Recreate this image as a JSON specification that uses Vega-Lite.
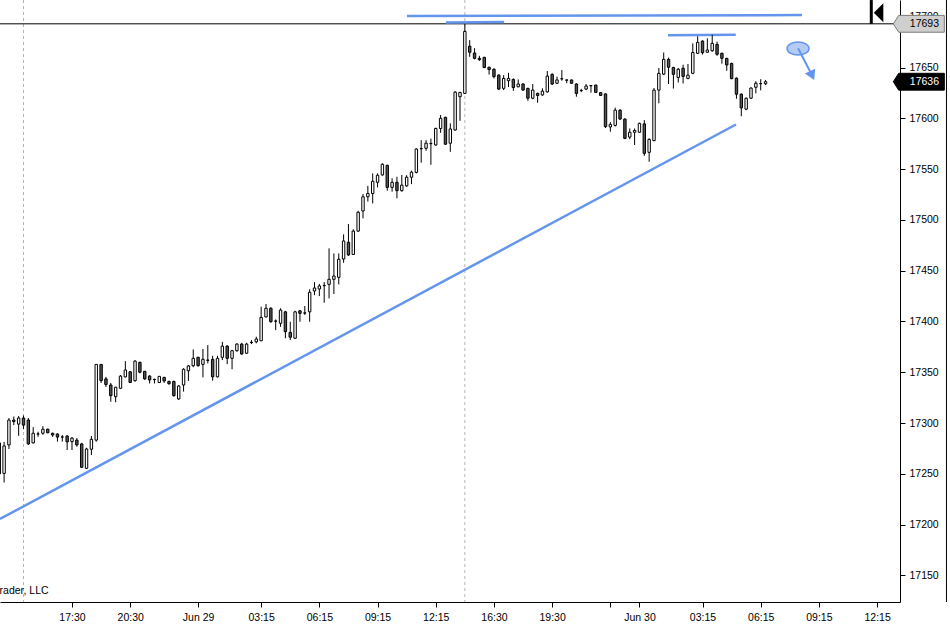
{
  "$schema": "https://vega.github.io/schema/vega-lite/v6.json",
  "autosize": {"type": "none"},
  "padding": {"left": 0, "top": 0, "right": 50, "bottom": 27},
  "width": 900,
  "height": 602,
  "background": "white",
  "config": {
    "view": {"stroke": null},
    "font": "Liberation Sans",
    "axis": {
      "domainColor": "black",
      "tickColor": "black",
      "labelColor": "black",
      "labelFont": "Liberation Sans",
      "labelFontSize": 10.5,
      "grid": false
    }
  },
  "datasets": {
    "bars": [
      {"i": -5, "o": 17280.5, "h": 17283, "l": 17238, "c": 17250},
      {"i": -4, "o": 17250.5, "h": 17281.5, "l": 17241.5, "c": 17277.5},
      {"i": -3, "o": 17278.5, "h": 17305, "l": 17274.5, "c": 17303},
      {"i": -2, "o": 17303, "h": 17306.5, "l": 17298, "c": 17301.5},
      {"i": -1, "o": 17299, "h": 17307, "l": 17287.5, "c": 17305},
      {"i": 0, "o": 17305, "h": 17307.5, "l": 17294, "c": 17298},
      {"i": 1, "o": 17303, "h": 17305, "l": 17278.5, "c": 17279.5},
      {"i": 2, "o": 17280.5, "h": 17296, "l": 17280, "c": 17290},
      {"i": 3, "o": 17289.25, "h": 17291.5, "l": 17286.5, "c": 17289.25},
      {"i": 4, "o": 17290, "h": 17297, "l": 17288.5, "c": 17294},
      {"i": 5, "o": 17294, "h": 17294.5, "l": 17290, "c": 17290.5},
      {"i": 6, "o": 17290, "h": 17290.5, "l": 17286.5, "c": 17288.25},
      {"i": 7, "o": 17289.25, "h": 17290, "l": 17281.75, "c": 17286.25},
      {"i": 8, "o": 17286.25, "h": 17288.25, "l": 17281.75, "c": 17286.25},
      {"i": 9, "o": 17287.25, "h": 17288.25, "l": 17273.5, "c": 17281.5},
      {"i": 10, "o": 17281.75, "h": 17286.25, "l": 17273.5, "c": 17285.25},
      {"i": 11, "o": 17283.25, "h": 17285.25, "l": 17276.75, "c": 17278.5},
      {"i": 12, "o": 17279.5, "h": 17280.5, "l": 17256, "c": 17256.5},
      {"i": 13, "o": 17255.5, "h": 17275.75, "l": 17254.75, "c": 17274.5},
      {"i": 14, "o": 17274.25, "h": 17287.25, "l": 17268.5, "c": 17284},
      {"i": 15, "o": 17283.25, "h": 17358, "l": 17281.75, "c": 17357.75},
      {"i": 16, "o": 17357.75, "h": 17358, "l": 17339.5, "c": 17341.75},
      {"i": 17, "o": 17343.5, "h": 17345.5, "l": 17335.5, "c": 17338},
      {"i": 18, "o": 17337.5, "h": 17339.5, "l": 17321, "c": 17327},
      {"i": 19, "o": 17326, "h": 17335.75, "l": 17320.5, "c": 17335.25},
      {"i": 20, "o": 17334.25, "h": 17347.25, "l": 17333.5, "c": 17346.25},
      {"i": 21, "o": 17345.5, "h": 17361, "l": 17345, "c": 17352.25},
      {"i": 22, "o": 17350.5, "h": 17351.25, "l": 17339.5, "c": 17340},
      {"i": 23, "o": 17341.75, "h": 17362, "l": 17340.75, "c": 17361},
      {"i": 24, "o": 17359.75, "h": 17360.5, "l": 17349, "c": 17350},
      {"i": 25, "o": 17351, "h": 17351.25, "l": 17342.5, "c": 17343.5},
      {"i": 26, "o": 17346.25, "h": 17347.25, "l": 17339, "c": 17342.5},
      {"i": 27, "o": 17343, "h": 17343.75, "l": 17339, "c": 17342.75},
      {"i": 28, "o": 17340, "h": 17346.25, "l": 17339.5, "c": 17346},
      {"i": 29, "o": 17345, "h": 17345.5, "l": 17339.5, "c": 17341.5},
      {"i": 30, "o": 17341, "h": 17341.75, "l": 17337.75, "c": 17338.75},
      {"i": 31, "o": 17341, "h": 17341.75, "l": 17326, "c": 17327},
      {"i": 32, "o": 17323.75, "h": 17337.5, "l": 17322.75, "c": 17336.5},
      {"i": 33, "o": 17337.5, "h": 17354, "l": 17331, "c": 17353},
      {"i": 34, "o": 17351.5, "h": 17357.25, "l": 17341.5, "c": 17356.25},
      {"i": 35, "o": 17356.5, "h": 17372.5, "l": 17355, "c": 17363.75},
      {"i": 36, "o": 17364.75, "h": 17365.25, "l": 17355.5, "c": 17356.5},
      {"i": 37, "o": 17357.75, "h": 17373, "l": 17345, "c": 17362.75},
      {"i": 38, "o": 17362, "h": 17376.75, "l": 17358.75, "c": 17361.75},
      {"i": 39, "o": 17362.75, "h": 17366.25, "l": 17341.75, "c": 17345.5},
      {"i": 40, "o": 17345.5, "h": 17366.25, "l": 17345, "c": 17363.75},
      {"i": 41, "o": 17364.75, "h": 17380, "l": 17362, "c": 17375.75},
      {"i": 42, "o": 17375.75, "h": 17376.75, "l": 17358, "c": 17363.75},
      {"i": 43, "o": 17363.75, "h": 17372, "l": 17353, "c": 17371.25},
      {"i": 44, "o": 17371.25, "h": 17378.75, "l": 17370.25, "c": 17377.75},
      {"i": 45, "o": 17377.75, "h": 17379, "l": 17367.25, "c": 17368},
      {"i": 46, "o": 17368.75, "h": 17379, "l": 17368, "c": 17377.75},
      {"i": 47, "o": 17379.5, "h": 17381.75, "l": 17377.75, "c": 17379.25},
      {"i": 48, "o": 17380, "h": 17385, "l": 17378.5, "c": 17382.75},
      {"i": 49, "o": 17381, "h": 17414.5, "l": 17380.75, "c": 17404},
      {"i": 50, "o": 17404.5, "h": 17417.25, "l": 17404, "c": 17413},
      {"i": 51, "o": 17413, "h": 17414, "l": 17398.75, "c": 17399.75},
      {"i": 52, "o": 17400.5, "h": 17402, "l": 17391.5, "c": 17400.25},
      {"i": 53, "o": 17398.25, "h": 17413, "l": 17394.75, "c": 17411.25},
      {"i": 54, "o": 17409.5, "h": 17410.5, "l": 17383.5, "c": 17390},
      {"i": 55, "o": 17389.25, "h": 17399.75, "l": 17381.75, "c": 17384.5},
      {"i": 56, "o": 17383.5, "h": 17410.5, "l": 17382.75, "c": 17409.5},
      {"i": 57, "o": 17410.5, "h": 17411.25, "l": 17399.75, "c": 17408},
      {"i": 58, "o": 17408.25, "h": 17415.25, "l": 17406.5, "c": 17408.5},
      {"i": 59, "o": 17409.5, "h": 17431.75, "l": 17399.75, "c": 17428.75},
      {"i": 60, "o": 17430, "h": 17438.75, "l": 17426, "c": 17433},
      {"i": 61, "o": 17432, "h": 17437, "l": 17425, "c": 17435},
      {"i": 62, "o": 17435.5, "h": 17438.75, "l": 17418.5, "c": 17435.25},
      {"i": 63, "o": 17436.5, "h": 17472, "l": 17422.75, "c": 17441.5},
      {"i": 64, "o": 17441.5, "h": 17467, "l": 17427, "c": 17444.75},
      {"i": 65, "o": 17443.5, "h": 17467, "l": 17436.5, "c": 17461.25},
      {"i": 66, "o": 17461.5, "h": 17485.75, "l": 17457.75, "c": 17479.25},
      {"i": 67, "o": 17478, "h": 17496, "l": 17464.5, "c": 17465.5},
      {"i": 68, "o": 17466, "h": 17490.75, "l": 17465.75, "c": 17489},
      {"i": 69, "o": 17489, "h": 17509, "l": 17488.25, "c": 17507.5},
      {"i": 70, "o": 17508.75, "h": 17525.5, "l": 17501.5, "c": 17522.75},
      {"i": 71, "o": 17522.75, "h": 17533.5, "l": 17518, "c": 17526},
      {"i": 72, "o": 17526, "h": 17545.75, "l": 17516.25, "c": 17538},
      {"i": 73, "o": 17537, "h": 17545.75, "l": 17532, "c": 17544},
      {"i": 74, "o": 17544.25, "h": 17555.75, "l": 17543.5, "c": 17554.75},
      {"i": 75, "o": 17553.75, "h": 17554.25, "l": 17528.75, "c": 17532},
      {"i": 76, "o": 17532, "h": 17541, "l": 17527.75, "c": 17537},
      {"i": 77, "o": 17537, "h": 17542.5, "l": 17521.25, "c": 17528.75},
      {"i": 78, "o": 17528.75, "h": 17544.25, "l": 17527.75, "c": 17534.25},
      {"i": 79, "o": 17533.5, "h": 17544, "l": 17532.5, "c": 17542},
      {"i": 80, "o": 17542, "h": 17548.5, "l": 17535.25, "c": 17547},
      {"i": 81, "o": 17546.75, "h": 17570.5, "l": 17545.75, "c": 17569.75},
      {"i": 82, "o": 17570, "h": 17578.5, "l": 17556.25, "c": 17570.25},
      {"i": 83, "o": 17570.5, "h": 17578.5, "l": 17568, "c": 17575.5},
      {"i": 84, "o": 17575, "h": 17580, "l": 17554.25, "c": 17575.25},
      {"i": 85, "o": 17573.75, "h": 17590.75, "l": 17573, "c": 17590},
      {"i": 86, "o": 17590, "h": 17603.25, "l": 17585.75, "c": 17600},
      {"i": 87, "o": 17601, "h": 17601.5, "l": 17573.75, "c": 17574.5},
      {"i": 88, "o": 17575.5, "h": 17595, "l": 17567, "c": 17589.5},
      {"i": 89, "o": 17588.5, "h": 17626.75, "l": 17587.75, "c": 17625.75},
      {"i": 90, "o": 17621.25, "h": 17626, "l": 17597.5, "c": 17625.5},
      {"i": 91, "o": 17624.5, "h": 17693, "l": 17624, "c": 17685.5},
      {"i": 92, "o": 17671, "h": 17677, "l": 17660.5, "c": 17665},
      {"i": 93, "o": 17664.25, "h": 17669, "l": 17658, "c": 17659},
      {"i": 94, "o": 17659, "h": 17661.5, "l": 17656.5, "c": 17657.75},
      {"i": 95, "o": 17660, "h": 17660.5, "l": 17649.25, "c": 17650},
      {"i": 96, "o": 17650.25, "h": 17650.75, "l": 17643, "c": 17648},
      {"i": 97, "o": 17648.25, "h": 17649.25, "l": 17639.25, "c": 17641},
      {"i": 98, "o": 17642.5, "h": 17643.25, "l": 17627.75, "c": 17628.75},
      {"i": 99, "o": 17629.5, "h": 17642.5, "l": 17627.75, "c": 17639.25},
      {"i": 100, "o": 17637, "h": 17644.75, "l": 17630.75, "c": 17639.25},
      {"i": 101, "o": 17638.25, "h": 17639.25, "l": 17627, "c": 17630.25},
      {"i": 102, "o": 17631, "h": 17638.25, "l": 17630.5, "c": 17633.75},
      {"i": 103, "o": 17633.75, "h": 17634.5, "l": 17627.5, "c": 17627.75},
      {"i": 104, "o": 17629.5, "h": 17630, "l": 17617.25, "c": 17619.75},
      {"i": 105, "o": 17619.75, "h": 17633.75, "l": 17618.75, "c": 17627.75},
      {"i": 106, "o": 17624.5, "h": 17625.25, "l": 17615.25, "c": 17622.5},
      {"i": 107, "o": 17623, "h": 17629.5, "l": 17622.25, "c": 17626.75},
      {"i": 108, "o": 17626, "h": 17646.5, "l": 17625.25, "c": 17641.5},
      {"i": 109, "o": 17643.25, "h": 17644.25, "l": 17632.75, "c": 17633.75},
      {"i": 110, "o": 17634.5, "h": 17641, "l": 17633.75, "c": 17637.75},
      {"i": 111, "o": 17639, "h": 17647.5, "l": 17637, "c": 17638.75},
      {"i": 112, "o": 17637.75, "h": 17638.25, "l": 17634.5, "c": 17637.5},
      {"i": 113, "o": 17637.75, "h": 17638, "l": 17633.75, "c": 17634.5},
      {"i": 114, "o": 17633.75, "h": 17634.5, "l": 17621.25, "c": 17624.5},
      {"i": 115, "o": 17627.25, "h": 17629, "l": 17625.75, "c": 17627.5},
      {"i": 116, "o": 17628.75, "h": 17633.75, "l": 17627.75, "c": 17631.75},
      {"i": 117, "o": 17632.25, "h": 17632.5, "l": 17625.25, "c": 17632},
      {"i": 118, "o": 17632.75, "h": 17633, "l": 17625.25, "c": 17625.5},
      {"i": 119, "o": 17625.25, "h": 17625.75, "l": 17622, "c": 17622.5},
      {"i": 120, "o": 17624, "h": 17624.5, "l": 17590.5, "c": 17591.75},
      {"i": 121, "o": 17591.5, "h": 17596.25, "l": 17586.75, "c": 17594},
      {"i": 122, "o": 17593, "h": 17610.5, "l": 17592, "c": 17608},
      {"i": 123, "o": 17608, "h": 17609, "l": 17598.25, "c": 17599.25},
      {"i": 124, "o": 17599.25, "h": 17600, "l": 17579.5, "c": 17580.25},
      {"i": 125, "o": 17581.5, "h": 17590, "l": 17579.5, "c": 17586.25},
      {"i": 126, "o": 17586.25, "h": 17590, "l": 17573.75, "c": 17588},
      {"i": 127, "o": 17586.25, "h": 17595.75, "l": 17586, "c": 17595},
      {"i": 128, "o": 17594.5, "h": 17598.25, "l": 17563, "c": 17565.5},
      {"i": 129, "o": 17566.5, "h": 17580.25, "l": 17557.25, "c": 17579.25},
      {"i": 130, "o": 17578, "h": 17629.75, "l": 17577.5, "c": 17627.75},
      {"i": 131, "o": 17627.75, "h": 17649.5, "l": 17614.75, "c": 17644.25},
      {"i": 132, "o": 17643.5, "h": 17664.75, "l": 17642.5, "c": 17658},
      {"i": 133, "o": 17658, "h": 17659.75, "l": 17633.75, "c": 17650.25},
      {"i": 134, "o": 17650, "h": 17650.75, "l": 17629.25, "c": 17643.25},
      {"i": 135, "o": 17640.25, "h": 17649.5, "l": 17635.25, "c": 17648.25},
      {"i": 136, "o": 17649.25, "h": 17652.75, "l": 17634.25, "c": 17641.25},
      {"i": 137, "o": 17639.25, "h": 17653.5, "l": 17638.5, "c": 17642.5},
      {"i": 138, "o": 17644.25, "h": 17673.75, "l": 17643.5, "c": 17664.75},
      {"i": 139, "o": 17664, "h": 17680.75, "l": 17663.25, "c": 17674.75},
      {"i": 140, "o": 17676, "h": 17676.75, "l": 17662.75, "c": 17664.5},
      {"i": 141, "o": 17665, "h": 17678.75, "l": 17664.5, "c": 17667.25},
      {"i": 142, "o": 17666.5, "h": 17682.25, "l": 17665.5, "c": 17673.75},
      {"i": 143, "o": 17672.75, "h": 17675.5, "l": 17661.5, "c": 17663},
      {"i": 144, "o": 17664, "h": 17664.5, "l": 17653.75, "c": 17659},
      {"i": 145, "o": 17659, "h": 17659.5, "l": 17646.75, "c": 17652.5},
      {"i": 146, "o": 17654, "h": 17654.75, "l": 17638.5, "c": 17639},
      {"i": 147, "o": 17639.5, "h": 17640.25, "l": 17619.25, "c": 17623.75},
      {"i": 148, "o": 17623.75, "h": 17624.5, "l": 17602, "c": 17610.25},
      {"i": 149, "o": 17609, "h": 17620.5, "l": 17608, "c": 17619.75},
      {"i": 150, "o": 17619.75, "h": 17630.5, "l": 17619, "c": 17629.75},
      {"i": 151, "o": 17630.5, "h": 17636.5, "l": 17624.5, "c": 17634.5},
      {"i": 152, "o": 17634, "h": 17638.5, "l": 17627.5, "c": 17634.25},
      {"i": 153, "o": 17634, "h": 17637.75, "l": 17632.75, "c": 17636}
    ],
    "drawn": [
      {"x1": 79.07, "y1": 17700.6, "x2": 160.5, "y2": 17701.6},
      {"x1": 87.1, "y1": 17694.4, "x2": 99.1, "y2": 17694.7},
      {"x1": 132.9, "y1": 17681.7, "x2": 146.85, "y2": 17682.2},
      {"x1": -4.85, "y1": 17205.6, "x2": 146.9, "y2": 17593.9}
    ],
    "boxes": [
      {"i": 184.6, "p": 17693, "label": "17693", "kind": "high"},
      {"i": 184.6, "p": 17636, "label": "17636", "kind": "last"}
    ]
  },
  "layer": [
    {
      "data": {"values": [{"i": 0}, {"i": 91}]},
      "mark": {"type": "rule", "color": "#b4b4b4", "strokeWidth": 1, "strokeDash": [3, 3]},
      "encoding": {
        "x": {
          "field": "i",
          "type": "quantitative",
          "title": null,
          "scale": {"domain": [-4.845, 180.72], "nice": false, "zero": false, "padding": 0},
          "axis": {
            "orient": "bottom",
            "values": [10, 22, 36, 49, 61, 73, 85, 97, 109, 121, 127, 140, 152, 164, 176],
            "labelExpr": "['17:30','20:30','Jun 29','03:15','06:15','09:15','12:15','16:30','19:30','','Jun 30','03:15','06:15','09:15','12:15'][indexof([10,22,36,49,61,73,85,97,109,121,127,140,152,164,176], datum.value)]",
            "tickSize": 5,
            "labelPadding": 5,
            "labelOverlap": false,
            "labelFlush": false,
            "labelBound": false
          }
        }
      }
    },
    {
      "data": {"values": [{"p": 17693}]},
      "mark": {"type": "rule", "color": "black", "strokeWidth": 1},
      "encoding": {
        "y": {
          "field": "p",
          "type": "quantitative",
          "title": null,
          "scale": {"domain": [17123.9, 17716.44], "nice": false, "zero": false, "padding": 0},
          "axis": {
            "orient": "right",
            "values": [17150, 17200, 17250, 17300, 17350, 17400, 17450, 17500, 17550, 17600, 17650, 17700],
            "format": "d",
            "tickSize": 5,
            "labelPadding": 4
          }
        }
      }
    },
    {
      "data": {"values": [{"i": 190.3}]},
      "mark": {"type": "rule", "color": "black", "strokeWidth": 1},
      "encoding": {"x": {"field": "i", "type": "quantitative", "title": null}}
    },
    {
      "data": {"name": "drawn"},
      "mark": {"type": "rule", "color": "#6495ED", "strokeWidth": 2.5},
      "encoding": {
        "x": {"field": "x1", "type": "quantitative", "title": null},
        "y": {"field": "y1", "type": "quantitative", "title": null},
        "x2": {"field": "x2"},
        "y2": {"field": "y2"}
      }
    },
    {
      "data": {"name": "bars"},
      "mark": {"type": "rule", "color": "black", "strokeWidth": 1},
      "encoding": {
        "x": {"field": "i", "type": "quantitative", "title": null},
        "y": {"field": "l", "type": "quantitative", "title": null},
        "y2": {"field": "h"}
      }
    },
    {
      "data": {"name": "bars"},
      "mark": {"type": "bar", "width": 2.4, "stroke": "black", "strokeWidth": 1},
      "encoding": {
        "x": {"field": "i", "type": "quantitative", "title": null},
        "y": {"field": "o", "type": "quantitative", "title": null},
        "y2": {"field": "c"},
        "fill": {"condition": {"test": "datum.c < datum.o", "value": "#555555"}, "value": "white"}
      }
    },
    {
      "data": {"values": [{"i": 159.7, "p": 17668.7}]},
      "mark": {"type": "point", "shape": "M-1,0A1,0.6,0,1,0,1,0A1,0.6,0,1,0,-1,0Z", "size": 484, "filled": true, "fill": "#b3cbf5", "stroke": "#6495ED", "strokeWidth": 1.5, "opacity": 1},
      "encoding": {
        "x": {"field": "i", "type": "quantitative", "title": null},
        "y": {"field": "p", "type": "quantitative", "title": null}
      }
    },
    {
      "data": {"values": [{"x1": 159.7, "y1": 17669, "x2": 162.3, "y2": 17645}]},
      "mark": {"type": "rule", "color": "#6495ED", "strokeWidth": 2},
      "encoding": {
        "x": {"field": "x1", "type": "quantitative", "title": null},
        "y": {"field": "y1", "type": "quantitative", "title": null},
        "x2": {"field": "x2"},
        "y2": {"field": "y2"}
      }
    },
    {
      "data": {"values": [{"i": 162.6, "p": 17642}]},
      "mark": {"type": "point", "shape": "triangle-up", "size": 130, "angle": 155, "filled": true, "color": "#6495ED", "opacity": 1},
      "encoding": {
        "x": {"field": "i", "type": "quantitative", "title": null},
        "y": {"field": "p", "type": "quantitative", "title": null}
      }
    },
    {
      "data": {"values": [{"i": 174.8, "top": 17716.4, "bottom": 17693}]},
      "mark": {"type": "rule", "color": "black", "strokeWidth": 3},
      "encoding": {
        "x": {"field": "i", "type": "quantitative", "title": null},
        "y": {"field": "top", "type": "quantitative", "title": null},
        "y2": {"field": "bottom"}
      }
    },
    {
      "data": {"values": [{"i": 176.3, "p": 17704}]},
      "mark": {"type": "point", "shape": "M0.5,-1L0.5,1L-0.5,0Z", "size": 361, "filled": true, "color": "black", "opacity": 1},
      "encoding": {
        "x": {"field": "i", "type": "quantitative", "title": null},
        "y": {"field": "p", "type": "quantitative", "title": null}
      }
    },
    {
      "data": {"name": "boxes"},
      "mark": {"type": "point", "shape": "M-1,0L-0.79,-0.33L1,-0.33L1,0.33L-0.79,0.33Z", "size": 2601, "filled": true, "opacity": 1, "strokeWidth": 1},
      "encoding": {
        "x": {"field": "i", "type": "quantitative", "title": null},
        "y": {"field": "p", "type": "quantitative", "title": null},
        "fill": {"condition": {"test": "datum.kind == 'last'", "value": "black"}, "value": "#cfcfcf"},
        "stroke": {"condition": {"test": "datum.kind == 'last'", "value": "black"}, "value": "#7a7a7a"}
      }
    },
    {
      "data": {"name": "boxes"},
      "mark": {"type": "text", "align": "left", "baseline": "middle", "fontSize": 10.5, "dx": -9},
      "encoding": {
        "x": {"field": "i", "type": "quantitative", "title": null},
        "y": {"field": "p", "type": "quantitative", "title": null},
        "text": {"field": "label"},
        "color": {"condition": {"test": "datum.kind == 'last'", "value": "white"}, "value": "black"}
      }
    },
    {
      "data": {"values": [{"i": 5.18, "p": 17134.7, "t": "© 2021 NinjaTrader, LLC"}]},
      "mark": {"type": "text", "align": "right", "baseline": "middle", "fontSize": 10.5, "color": "black"},
      "encoding": {
        "x": {"field": "i", "type": "quantitative", "title": null},
        "y": {"field": "p", "type": "quantitative", "title": null},
        "text": {"field": "t"}
      }
    }
  ]
}
